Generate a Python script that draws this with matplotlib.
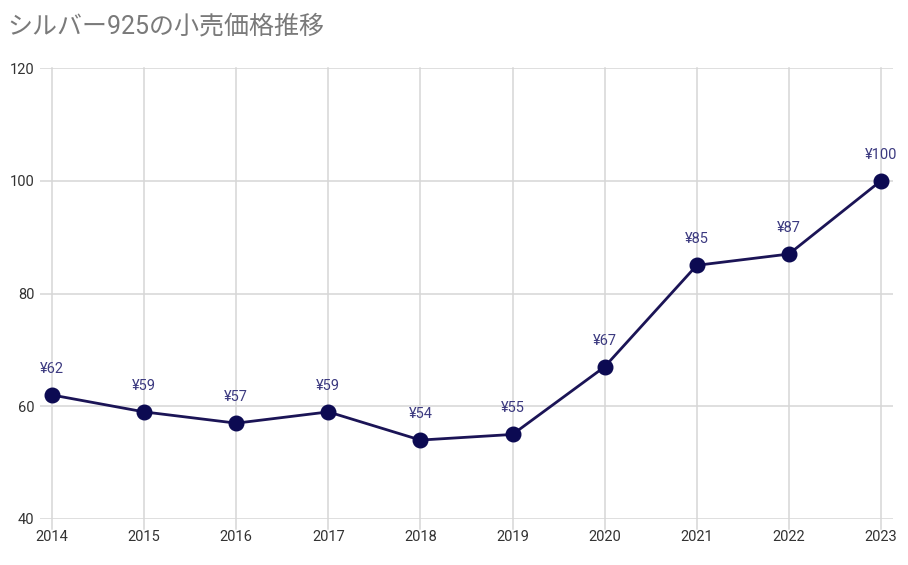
import matplotlib
matplotlib.use("Agg")
from matplotlib import pyplot as plt

years = [2014, 2015, 2016, 2017, 2018, 2019, 2020, 2021, 2022, 2023]
prices = [62, 59, 57, 59, 54, 55, 67, 85, 87, 100]
y_ticks = [40, 60, 80, 100, 120]
title = "シルバー925の小売価格推移"

plt.rcParams['font.family'] = ['Roboto', 'Noto Sans CJK JP', 'DejaVu Sans']

fig = plt.figure(figsize=(9.08, 5.65), dpi=100)
ax = fig.add_axes([40 / 908, 46 / 565, 853 / 908, 451 / 565])

pad = 12 / 92.1
ax.set_xlim(years[0] - pad, years[-1] + pad)
ax.set_ylim(40, 120)

grid_c = "#d6d6d6"
for y in y_ticks:
    ax.axhline(y, color=grid_c, lw=1.1, zorder=0)
for x in years:
    ax.plot([x, x], [38.2, 120], color=grid_c, lw=1.1, zorder=0, clip_on=False)

ax.plot(years, prices, color="#1b1456", lw=2, zorder=3)
ax.plot(years, prices, "o", color="#0c0a52", markersize=10.5, zorder=4)

for x, v in zip(years, prices):
    ax.annotate(f"¥{v}", (x, v), xytext=(0, 19), textcoords="offset pixels",
                ha="center", va="bottom", fontsize=10.5, color="#3c3a80")

for s in ax.spines.values():
    s.set_visible(False)
ax.set_xticks(years)
ax.set_yticks(y_ticks)
ax.tick_params(axis="x", length=0, pad=8, labelsize=10.5, labelcolor="#333333")
ax.tick_params(axis="y", length=0, pad=4, labelsize=10.5, labelcolor="#333333")

fig.text(7 / 908, 1 - 27 / 565, title, fontsize=18, color="#7a7a7a",
         ha="left", va="center")

fig.savefig("out.png", dpi=100)
